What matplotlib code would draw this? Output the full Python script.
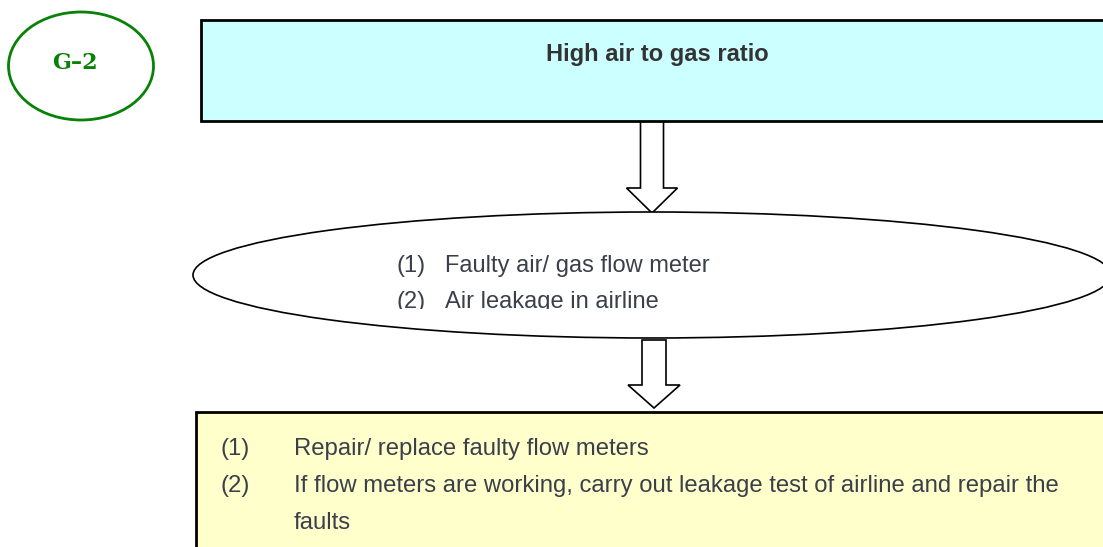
# ====================
# G-2 トラブルシューティング フローチャート
# ====================
import matplotlib.pyplot as plt
from matplotlib.patches import Ellipse, Rectangle, Polygon

# テキスト
tag = 'G\u20132'
problem = 'High air to gas ratio'
cause_nums = ['(1)', '(2)']
causes = ['Faulty air/ gas flow meter', 'Air leakage in airline']
remedy_nums = ['(1)', '(2)', '']
remedies = ['Repair/ replace faulty flow meters',
            'If flow meters are working, carry out leakage test of airline and repair the',
            'faults']

W, H = 1103, 547
txt_color = '#3a3f4a'
narrow = ['Liberation Sans Narrow', 'Liberation Sans', 'DejaVu Sans']

fig = plt.figure(figsize=(W / 100, H / 100), dpi=100)
ax = fig.add_axes([0, 0, 1, 1])
ax.set_xlim(0, W)
ax.set_ylim(H, 0)
ax.axis('off')


def block_arrow(x_c, y0, y1, y_tip, shaft_w, head_w):
    # 白抜きの下向き矢印
    pts = [(x_c - shaft_w / 2, y0), (x_c + shaft_w / 2, y0),
           (x_c + shaft_w / 2, y1), (x_c + head_w / 2, y1),
           (x_c, y_tip), (x_c - head_w / 2, y1),
           (x_c - shaft_w / 2, y1)]
    ax.add_patch(Polygon(pts, closed=True, facecolor='white',
                         edgecolor='black', lw=1.2, zorder=1))


# G-2 の楕円
ax.add_patch(Ellipse((81, 66), 145, 108, facecolor='white',
                     edgecolor='#078207', lw=2))
ax.text(75, 63, tag, ha='center', va='center', color='#078207',
        fontsize=16, fontweight='bold', family='DejaVu Serif')

# 上の箱
ax.add_patch(Rectangle((201, 20), 1000, 101, facecolor='#ccffff',
                       edgecolor='black', lw=2, zorder=2))
ax.text(657, 55, problem, ha='center', va='center', color='#333333',
        fontsize=17, fontweight='bold', family='Liberation Sans', zorder=3)

# 矢印
block_arrow(652, 121, 188, 213, 23, 51)

# 原因の楕円
ax.add_patch(Ellipse((652, 275), 918, 126, facecolor='white',
                     edgecolor='black', lw=1.2, zorder=2))
for i, (n, c) in enumerate(zip(cause_nums, causes)):
    y = 266 + i * 36
    ax.text(397, y, n, ha='left', va='center', color=txt_color,
            fontsize=17, family='Liberation Sans', zorder=3)
    ax.text(445, y, c, ha='left', va='center', color=txt_color,
            fontsize=17, family='Liberation Sans', zorder=3)
# 下の行は楕円の中で切れている
ax.add_patch(Rectangle((390, 309), 300, 9, facecolor='white',
                       edgecolor='none', zorder=4))

# 矢印
block_arrow(654, 340, 385, 408, 24, 52)

# 対策の箱
ax.add_patch(Rectangle((196, 412), 1000, 200, facecolor='#ffffcc',
                       edgecolor='black', lw=2, zorder=2))
for i, (n, r) in enumerate(zip(remedy_nums, remedies)):
    y = 449 + i * 37
    ax.text(221, y, n, ha='left', va='center', color=txt_color,
            fontsize=17.2, family=narrow, zorder=3)
    ax.text(294, y, r, ha='left', va='center', color=txt_color,
            fontsize=17.2, family=narrow, zorder=3)

plt.savefig('out.png', dpi=100)
plt.close()
